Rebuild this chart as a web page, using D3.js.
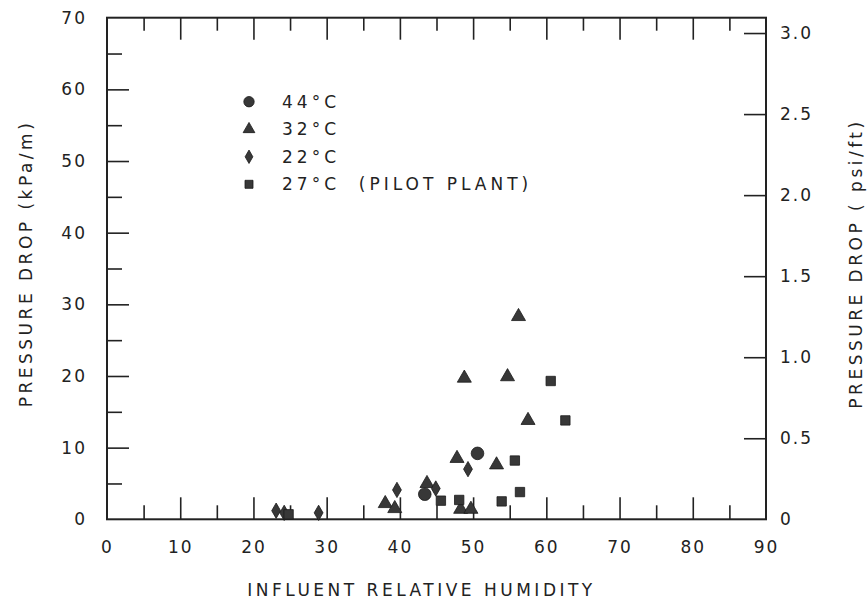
<!DOCTYPE html>
<html>
<head>
<meta charset="utf-8">
<script src="https://cdn.jsdelivr.net/npm/d3@7"></script>
<style>
  body { margin: 0; background: #fff; }
  svg text { font-family: "DejaVu Sans", sans-serif; fill: #222; }
</style>
</head>
<body>
<div class="chart"></div>
<script>
// [relative humidity %, pressure drop kPa/m]
var hot44 = [[43.4, 3.5], [50.6, 9.2]];
var mid32 = [[38.0, 2.2], [39.3, 1.5], [43.7, 5.0], [47.8, 8.5], [48.3, 1.4], [48.8, 19.7],
             [49.7, 1.4], [53.2, 7.6], [54.7, 19.9], [56.2, 28.3], [57.5, 13.8]];
var cool22 = [[23.1, 1.2], [24.2, 0.9], [28.9, 0.9], [39.6, 4.1], [44.9, 4.3], [49.3, 7.0]];
var pilot27 = [[24.8, 0.7], [45.6, 2.6], [48.1, 2.7], [53.9, 2.5], [55.7, 8.2], [56.4, 3.8],
               [60.6, 19.3], [62.6, 13.8]];

var legendLabels = ["44°C", "32°C", "22°C", "27°C  (PILOT PLANT)"];
var xTicks = [0, 10, 20, 30, 40, 50, 60, 70, 80, 90];
var yTicks = [0, 10, 20, 30, 40, 50, 60, 70];
var psiTicks = [0, 0.5, 1.0, 1.5, 2.0, 2.5, 3.0];
var psiLabels = ["0", "0.5", "1.0", "1.5", "2.0", "2.5", "3.0"];

var KPA_PER_PSIFT = 22.62;

var draw = function () {
  var W = 867, H = 604;
  var pLeft = 107, pRight = 766, pTop = 17.7, pBottom = 519.3;
  var ink = "#222";

  var svg = d3.select(".chart").append("svg")
    .attr("width", W)
    .attr("height", H);

  var x = d3.scaleLinear().domain([0, 90]).range([pLeft, pRight]);
  var y = d3.scaleLinear().domain([0, 70]).range([pBottom, pTop]);
  var yPsi = d3.scaleLinear().domain([0, 70 / KPA_PER_PSIFT]).range([pBottom, pTop]);

  var odd5 = d3.range(5, 90, 10);
  var odd5y = d3.range(5, 70, 10);

  // draws an axis and drops its domain path, the frame is drawn separately
  var drawAxis = function (axis, tx, ty) {
    var g = svg.append("g").attr("transform", "translate(" + tx + "," + ty + ")").call(axis);
    g.select(".domain").remove();
    g.selectAll("line").attr("stroke", ink).attr("stroke-width", 1.6);
    g.selectAll("text")
      .attr("font-size", 17)
      .attr("letter-spacing", 2)
      .attr("fill", ink);
    return g;
  };

  // bottom
  drawAxis(d3.axisBottom(x).tickValues(xTicks).tickSize(-22).tickPadding(22), 0, pBottom)
    .selectAll(".tick").filter(function (d) { return d === 0 || d === 90; }).select("line").remove();
  drawAxis(d3.axisBottom(x).tickValues(odd5).tickSize(-14).tickFormat(""), 0, pBottom);
  // top
  drawAxis(d3.axisTop(x).tickValues(xTicks.slice(1, -1)).tickSize(-22).tickFormat(""), 0, pTop);
  drawAxis(d3.axisTop(x).tickValues(odd5).tickSize(-13).tickFormat(""), 0, pTop);
  // left
  drawAxis(d3.axisLeft(y).tickValues(yTicks).tickSize(-22).tickPadding(20), pLeft, 0)
    .selectAll(".tick").filter(function (d) { return d === 0 || d === 70; }).select("line").remove();
  drawAxis(d3.axisLeft(y).tickValues(odd5y).tickSize(-15).tickFormat(""), pLeft, 0);
  // right (psi/ft)
  drawAxis(d3.axisRight(yPsi).tickValues(psiTicks).tickSize(-22).tickPadding(14)
    .tickFormat(function (d, i) { return psiLabels[i]; }), pRight, 0)
    .selectAll(".tick").filter(function (d) { return d === 0; }).select("line").remove();

  // frame
  svg.append("rect")
    .attr("x", pLeft).attr("y", pTop)
    .attr("width", pRight - pLeft).attr("height", pBottom - pTop)
    .attr("fill", "none").attr("stroke", ink).attr("stroke-width", 2);

  // axis titles
  svg.append("text")
    .attr("transform", "translate(26," + ((pTop + pBottom) / 2 - 5) + ") rotate(-90)")
    .attr("text-anchor", "middle").attr("dy", "0.36em")
    .attr("font-size", 17).attr("letter-spacing", 3.5)
    .text("PRESSURE DROP (kPa/m)");

  svg.append("text")
    .attr("transform", "translate(856," + ((pTop + pBottom) / 2 - 5) + ") rotate(-90)")
    .attr("text-anchor", "middle").attr("dy", "0.36em")
    .attr("font-size", 17).attr("letter-spacing", 3.5)
    .text("PRESSURE DROP ( psi/ft)");

  svg.append("text")
    .attr("x", (pLeft + pRight) / 2 - 15).attr("y", 590)
    .attr("text-anchor", "middle").attr("dy", "0.36em")
    .attr("font-size", 17).attr("letter-spacing", 3.5)
    .text("INFLUENT RELATIVE HUMIDITY");

  // series
  var series = [
    { data: hot44, shape: d3.symbolCircle, size: 125, legendSize: 85 },
    { data: mid32, shape: d3.symbolTriangle, size: 85, legendSize: 60 },
    { data: cool22, shape: d3.symbolDiamond, size: 68, legendSize: 52 },
    { data: pilot27, shape: d3.symbolSquare, size: 88, legendSize: 64 }
  ];

  series.forEach(function (s) {
    svg.append("g").selectAll("path")
      .data(s.data)
      .enter().append("path")
      .attr("d", d3.symbol().type(s.shape).size(s.size))
      .attr("transform", function (d) { return "translate(" + x(d[0]) + "," + y(d[1]) + ")"; })
      .attr("fill", "#383838")
      .attr("stroke", "#1a1a1a")
      .attr("stroke-width", 0.8);
  });

  // legend
  var legendY = d3.scalePoint().domain(d3.range(4)).range([101.7, 184.3]);
  var legend = svg.append("g").selectAll("g")
    .data(series)
    .enter().append("g")
    .attr("transform", function (d, i) { return "translate(249," + legendY(i) + ")"; });

  legend.append("path")
    .attr("d", function (d) { return d3.symbol().type(d.shape).size(d.legendSize)(); })
    .attr("fill", "#383838")
    .attr("stroke", "#1a1a1a")
    .attr("stroke-width", 0.8);

  legend.append("text")
    .attr("x", 33).attr("dy", "0.36em")
    .attr("font-size", 17).attr("letter-spacing", 4)
    .style("white-space", "pre")
    .text(function (d, i) { return legendLabels[i]; });
};

draw();
</script>
</body>
</html>
